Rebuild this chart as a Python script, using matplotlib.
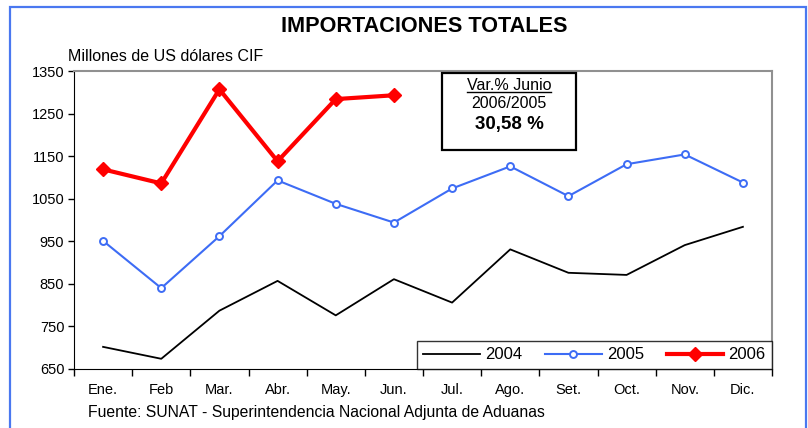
import matplotlib
matplotlib.use("Agg")
import matplotlib.pyplot as plt
from matplotlib.patches import Rectangle
from matplotlib.lines import Line2D

plt.rcParams['font.family'] = ['Liberation Sans', 'DejaVu Sans']

# Data (millones de US$ CIF)
months = ["Ene.", "Feb", "Mar.", "Abr.", "May.", "Jun.", "Jul.", "Ago.", "Set.", "Oct.", "Nov.", "Dic."]
imp_2004 = [702, 674, 787, 857, 776, 861, 806, 931, 876, 871, 941, 984]
imp_2005 = [951, 840, 962, 1093, 1038, 994, 1074, 1126, 1056, 1131, 1154, 1088]
imp_2006 = [1119, 1086, 1307, 1138, 1284, 1293]
y_ticks = [650, 750, 850, 950, 1050, 1150, 1250, 1350]

W, H = 808, 428
fig = plt.figure(figsize=(W / 100, H / 100), dpi=100)

# blue frame around the whole chart
fig.patches.append(Rectangle((10 / W, -0.02), 796 / W, 1 - 7 / H + 0.02, transform=fig.transFigure,
                             fill=False, edgecolor="#4a78f0", linewidth=1.6))

ax = fig.add_axes([74 / W, 59 / H, 698 / W, 298 / H])
x = list(range(len(months)))
ax.plot(x, imp_2004, color="black", linewidth=1.3, label="2004")
ax.plot(x, imp_2005, color="#3d6cf5", linewidth=1.5, marker="o", markersize=5,
        markerfacecolor="white", markeredgewidth=1.4, label="2005")
ax.plot(x[:len(imp_2006)], imp_2006, color="#ff0000", linewidth=3.0, marker="D", markersize=7.5, label="2006")

ax.set_xlim(-0.5, 11.5)
ax.set_ylim(650, 1350)
ax.set_yticks(y_ticks)
ax.tick_params(axis="y", labelsize=10.5, length=4, width=1, direction="out", pad=3)
# ticks at the category boundaries, labels in the middle
ax.set_xticks([i - 0.5 for i in range(13)])
ax.set_xticklabels([])
ax.set_xticks(x, minor=True)
ax.set_xticklabels(months, minor=True, fontsize=10.5)
ax.tick_params(axis="x", which="major", length=5, width=1, direction="out")
ax.tick_params(axis="x", which="minor", length=0, pad=10)
ax.spines["top"].set_color("#909090")
ax.spines["right"].set_color("#909090")
ax.spines["top"].set_linewidth(1.5)
ax.spines["right"].set_linewidth(1.5)

leg = ax.legend(loc="lower left", bbox_to_anchor=(0.491, 0, 0.509, 0.1275), mode="expand", ncol=3,
                fontsize=12, frameon=True, fancybox=False, borderaxespad=0, handlelength=3.4,
                columnspacing=1.2, handletextpad=0.3)
leg.get_frame().set_edgecolor("black")
leg.get_frame().set_linewidth(1.0)

# annotation box
ax.add_patch(Rectangle((0.527, 0.735), 0.192, 0.258, transform=ax.transAxes, fill=False,
                       edgecolor="black", linewidth=1.6, zorder=5))
t1 = fig.text(509 / W, 1 - 86 / H, "Var.% Junio", ha="center", va="center", fontsize=11.5)
fig.text(509 / W, 1 - 104 / H, "2006/2005", ha="center", va="center", fontsize=11.5)
fig.text(509 / W, 1 - 125 / H, "30,58 %", ha="center", va="center", fontsize=13.5, fontweight="bold")

fig.text(424 / W, 1 - 27 / H, "IMPORTACIONES TOTALES", ha="center", va="center", fontsize=15.6, fontweight="bold")
fig.text(68 / W, 1 - 57 / H, "Millones de US dólares CIF", ha="left", va="center", fontsize=11.5)
fig.text(88 / W, 1 - 413 / H, "Fuente: SUNAT - Superintendencia Nacional Adjunta de Aduanas",
         ha="left", va="center", fontsize=11.3)

# underline the box heading
fig.canvas.draw()
bb = t1.get_window_extent().transformed(fig.transFigure.inverted())
fig.add_artist(Line2D([bb.x0, bb.x1], [bb.y0 + 0.003, bb.y0 + 0.003], transform=fig.transFigure,
                      color="black", linewidth=1.0))

fig.savefig("out.png", dpi=100)
